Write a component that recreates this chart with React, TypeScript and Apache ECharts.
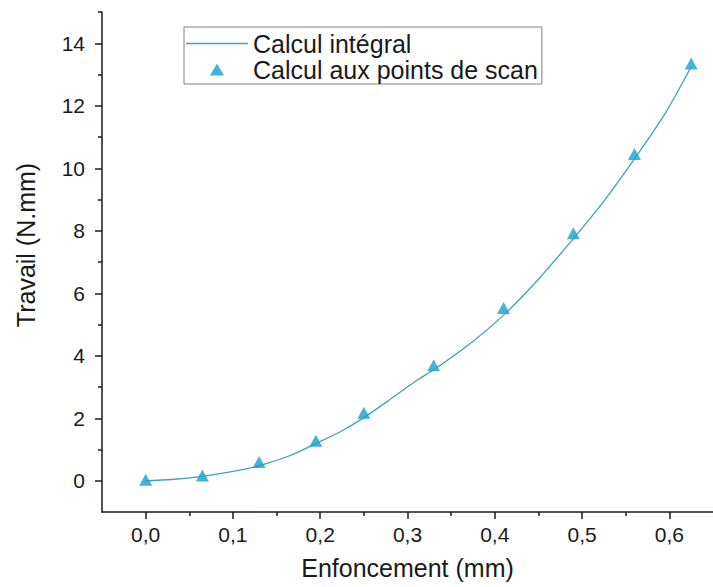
import React, { useEffect, useRef } from "react";
import * as echarts from "echarts";

// Scan points (triangles)
const scanX = [0, 0.065, 0.13, 0.195, 0.25, 0.33, 0.41, 0.49, 0.56, 0.625];
const scanY = [0.03, 0.17, 0.6, 1.28, 2.18, 3.7, 5.53, 7.92, 10.46, 13.35];

// Integral curve (line)
const curveX = [0, 0.03, 0.065, 0.1, 0.13, 0.165, 0.195, 0.225, 0.25, 0.28, 0.31, 0.33, 0.37, 0.41, 0.45, 0.49, 0.525, 0.56, 0.595, 0.625];
const curveY = [0, 0.04, 0.14, 0.3, 0.48, 0.8, 1.19, 1.6, 2.02, 2.6, 3.2, 3.55, 4.35, 5.3, 6.45, 7.75, 8.95, 10.3, 11.75, 13.25];

// Axis ticks
const xMajor = [0, 0.1, 0.2, 0.3, 0.4, 0.5, 0.6];
const xMinor = [0.05, 0.15, 0.25, 0.35, 0.45, 0.55];
const yMajor = [0, 2, 4, 6, 8, 10, 12, 14];
const yMinor = [1, 3, 5, 7, 9, 11, 13, 15];

const seriesNames = ["Calcul intégral", "Calcul aux points de scan"];

const FONT = "'Liberation Sans', Arial, sans-serif";
const TEXT = "#1a1a1a";
const AXIS = "#1a1a1a";
const LINE_COLOR = "#3ea3b4";
const MARK_COLOR = "#17a0d0";

export default function App() {
  const ref = useRef<HTMLDivElement>(null);
  useEffect(() => {
    if (!ref.current) return;
    const chart = echarts.init(ref.current, undefined, { renderer: "svg" });
    const axisLine = { show: true, onZero: false, lineStyle: { color: AXIS, width: 1.5 } };
    chart.setOption({
      animation: false,
      backgroundColor: "#ffffff",
      textStyle: { fontFamily: FONT },
      grid: { left: 102, top: 12, width: 620, height: 500 },
      legend: {
        orient: "vertical",
        left: 184,
        top: 27,
        borderColor: "#808080",
        borderWidth: 1,
        padding: [4, 4, 2, 2],
        itemWidth: 62,
        itemHeight: 12,
        itemGap: 1,
        symbolKeepAspect: true,
        textStyle: { fontSize: 25, lineHeight: 25, color: TEXT, fontFamily: FONT },
        data: [
          { name: seriesNames[0], icon: "path://M0,0H62V1.3H0Z" },
          { name: seriesNames[1], icon: "path://M6.5,0L13,11L0,11Z" },
        ],
      },
      xAxis: [
        {
          type: "value",
          min: -0.05,
          max: 0.65,
          position: "bottom",
          axisLine,
          splitLine: { show: false },
          axisTick: { show: true, customValues: xMajor, length: 7, lineStyle: { color: AXIS, width: 1.5 } },
          axisLabel: {
            customValues: xMajor,
            fontSize: 21,
            margin: 12,
            color: TEXT,
            fontFamily: FONT,
            formatter: (v: number) => v.toFixed(1).replace(".", ","),
          },
          name: "Enfoncement (mm)",
          nameLocation: "middle",
          nameGap: 43,
          nameTextStyle: { fontSize: 25, color: TEXT, fontFamily: FONT },
        },
        {
          type: "value",
          min: -0.05,
          max: 0.65,
          position: "bottom",
          offset: 0,
          axisLine: { show: false, onZero: false },
          splitLine: { show: false },
          axisTick: { show: true, customValues: xMinor, length: 4, lineStyle: { color: AXIS, width: 1.5 } },
          axisLabel: { show: false },
        },
      ],
      yAxis: [
        {
          type: "value",
          min: -1,
          max: 15,
          position: "left",
          axisLine,
          splitLine: { show: false },
          axisTick: { show: true, customValues: yMajor, length: 7, lineStyle: { color: AXIS, width: 1.5 } },
          axisLabel: { customValues: yMajor, fontSize: 21, margin: 17, color: TEXT, fontFamily: FONT },
          name: "Travail (N.mm)",
          nameLocation: "middle",
          nameGap: 64,
          nameTextStyle: { fontSize: 25, color: TEXT, fontFamily: FONT, padding: [0, 0, 0, 34] },
        },
        {
          type: "value",
          min: -1,
          max: 15,
          position: "left",
          offset: 0,
          axisLine: { show: false, onZero: false },
          splitLine: { show: false },
          axisTick: { show: true, customValues: yMinor, length: 4, lineStyle: { color: AXIS, width: 1.5 } },
          axisLabel: { show: false },
        },
      ],
      series: [
        {
          name: seriesNames[0],
          type: "line",
          xAxisIndex: 0,
          yAxisIndex: 0,
          data: curveX.map((x, i) => [x, curveY[i]]),
          smooth: 0.3,
          symbol: "none",
          lineStyle: { color: LINE_COLOR, width: 1.3 },
          itemStyle: { color: LINE_COLOR },
          z: 2,
        },
        {
          name: seriesNames[1],
          type: "scatter",
          xAxisIndex: 0,
          yAxisIndex: 0,
          data: scanX.map((x, i) => [x, scanY[i]]),
          symbol: "triangle",
          symbolSize: [13, 12],
          itemStyle: { color: MARK_COLOR },
          z: 3,
        },
      ],
    });
    return () => chart.dispose();
  }, []);
  return (
    <div
      ref={ref}
      style={{ position: "absolute", left: 0, top: 0, width: 713, height: 587, background: "#fff" }}
    />
  );
}
